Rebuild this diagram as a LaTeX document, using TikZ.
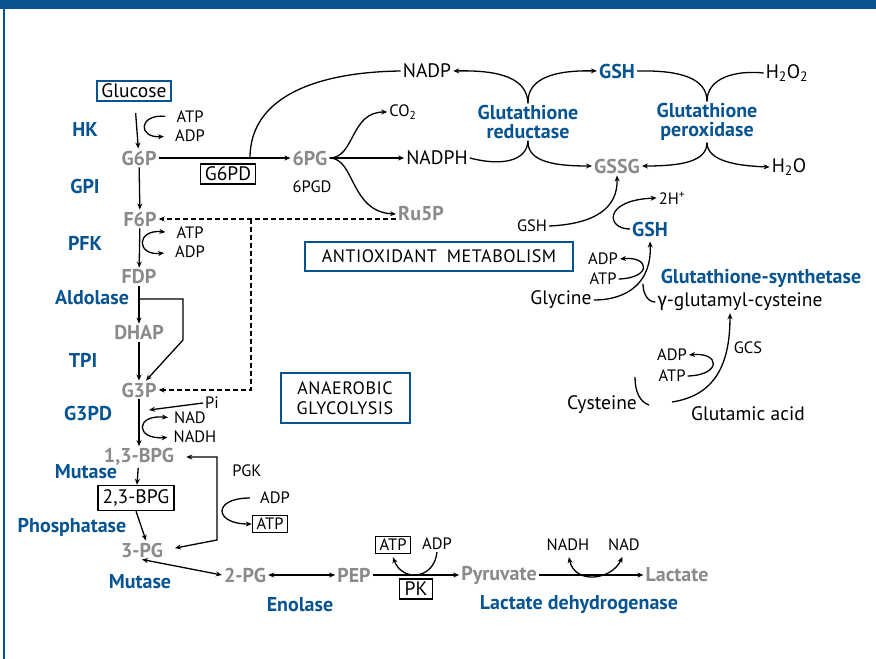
\documentclass[tikz,border=0pt]{standalone}
\usepackage{fontspec}
\setmainfont{PT Sans}
\newfontfamily\grkfont{Fira Sans}
\usepackage{xcolor}
\usetikzlibrary{arrows.meta}
\definecolor{hbblue}{RGB}{8,84,144}
\definecolor{hbgray}{RGB}{138,138,138}

\begin{document}
\begin{tikzpicture}[x=1pt,y=-1pt,
  met/.style={text=hbgray,font=\fontsize{20}{20}\selectfont\bfseries,inner sep=2pt},
  enz/.style={text=hbblue,font=\fontsize{20}{18.5}\selectfont\bfseries,align=center,inner sep=2pt},
  sub/.style={font=\fontsize{19.5}{20}\selectfont,inner sep=2pt},
  sml/.style={font=\fontsize{16.5}{18}\selectfont,inner sep=2pt},
  bbox/.style={draw=black,line width=1.6pt,inner xsep=4.5pt,inner ysep=3pt},
  blbox/.style={draw=hbblue,line width=2pt,align=center,font=\fontsize{18}{20}\selectfont\addfontfeatures{LetterSpace=3}},
  arr/.style={-{Stealth[length=6pt,width=5pt]},line width=1.3pt},
  arr2/.style={{Stealth[length=6pt,width=5pt]}-{Stealth[length=6pt,width=5pt]},line width=1.3pt},
  dsh/.style={dash pattern=on 5pt off 3pt},
  ln/.style={line width=1.3pt}]

  \useasboundingbox (0,0) rectangle (876,659);

  % Frame
  \fill[hbblue] (0,0) rectangle (876,9);
  \fill[hbblue] (3,0) rectangle (5,659);

  % --- 1. Glycolysis, main column ---
  \node[sub,draw=hbblue,line width=2pt,inner xsep=4.5pt,inner ysep=3pt] (glc) at (134,91) {Glucose};
  \node[met] (g6p) at (139,158) {G6P};
  \node[met] (f6p) at (140,219) {F6P};
  \node[met] (fdp) at (139,277) {FDP};
  \node[met] (dhap) at (139,333) {DHAP};
  \node[met] (g3p) at (139,390) {G3P};
  \node[met] (bpg13) at (139,457) {1,3-BPG};
  \node[sub,bbox,inner ysep=4pt] (bpg23) at (136,498) {2,3-BPG};
  \node[met] (pg3) at (142,550) {3-PG};
  \node[met] (pg2) at (245,575) {2-PG};
  \node[met] (pep) at (354,575) {PEP};
  \node[met] (pyr) at (499,575) {Pyruvate};
  \node[met] (lac) at (677,575) {Lactate};

  \node[enz] (hk) at (85,129) {HK};
  \node[enz] (gpi) at (85,186) {GPI};
  \node[enz] (pfk) at (85,243) {PFK};
  \node[enz] (ald) at (92,298) {Aldolase};
  \node[enz] (tpi) at (83,360) {TPI};
  \node[enz] (g3pd) at (88,413) {G3PD};
  \node[enz] (mut1) at (86,472) {Mutase};
  \node[enz] (phos) at (72,527) {Phosphatase};
  \node[enz] (mut2) at (140,582) {Mutase};
  \node[enz] (eno) at (300,605) {Enolase};
  \node[enz] (ldh) at (579,605) {Lactate dehydrogenase};

  \draw[arr,shorten <=11pt] (glc) -- (g6p);
  \draw[arr] (g6p) -- (f6p);
  \draw[arr] (f6p) -- (fdp);
  \draw[arr] (fdp) -- (dhap);
  \draw[arr] (dhap) -- (g3p);
  \draw[arr] (g3p) -- (bpg13);
  \draw[arr] (bpg13) -- (bpg23);
  \draw[arr] (bpg23.south) -- ([xshift=4pt]pg3.north);
  \coordinate (aldj) at (139,299);
  \draw[arr] (aldj) -| (183,340) -- ([xshift=7pt]g3p.north);

  % cofactors
  \node[sml] (atp1) at (190,117) {ATP};
  \node[sml] (adp1) at (190,136) {ADP};
  \draw[arr,shorten <=9pt,shorten >=9pt] (atp1.west) .. controls (138,114) and (138,138) .. (adp1.west);
  \node[sml] (atp2) at (190,233) {ATP};
  \node[sml] (adp2) at (190,252) {ADP};
  \draw[arr2,shorten <=9pt,shorten >=9pt] (atp2.west) .. controls (136,229) and (136,256) .. (adp2.west);
  \node[sml] (pi) at (212,403) {Pi};
  \coordinate (pij) at (149,410);
  \draw[arr] (pi.west) -- (pij);
  \node[sml] (nad1) at (190,418) {NAD};
  \node[sml] (nadh1) at (195,437) {NADH};
  \draw[arr2,shorten <=4pt,shorten >=4pt] (nad1.west) .. controls (135,414) and (135,440) .. (nadh1.west);

  % PGK
  \coordinate (pgkc) at (217,540);
  \draw[arr2,shorten <=10pt,shorten >=10pt] (bpg13.east) -| (pgkc) -- (pg3.east);
  \node[sml] (pgk) at (247,471) {PGK};
  \node[sml] (adp3) at (275,498) {ADP};
  \node[sml,bbox,inner ysep=2.5pt,inner xsep=4pt] (atp3) at (270,524) {ATP};
  \draw[arr,shorten <=8pt] (adp3.west) .. controls (212,498) and (214,524) .. (atp3.west);

  \draw[arr2] (pg3.south) -- (pg2.west);
  \draw[arr2] (pg2.east) -- (pep.west);
  \draw[arr] (pep.east) -- (pyr.west);
  \draw[arr] (pyr.east) -- (lac.west);

  % PK
  \node[sub,bbox,inner xsep=5pt] (pk) at (416,589) {PK};
  \node[sml,bbox,inner ysep=2.5pt,inner xsep=4pt] (atp4) at (393,545) {ATP};
  \node[sml] (adp4) at (437,544) {ADP};
  \draw[arr] (adp4.south) .. controls (434,580) and (402,582) .. ([yshift=-3pt]atp4.south);

  % LDH
  \node[sml] (nadh2) at (568,545) {NADH};
  \node[sml] (nad2) at (624,545) {NAD};
  \draw[arr2,shorten <=4pt,shorten >=4pt] (nadh2.south) .. controls (575,585) and (612,580) .. (nad2.south);

  % --- 2. Pentose phosphate shunt ---
  \node[met] (pg6) at (310,158) {6PG};
  \node[sub,bbox] (g6pd) at (228,174) {G6PD};
  \node[sml] (pgd) at (312,187) {6PGD};
  \node[sub] (nadp) at (427,71) {NADP};
  \node[sub] (nadph) at (437,158) {NADPH};
  \node[sml] (co2) at (403,112) {CO\textsubscript{2}};
  \node[met] (ru5p) at (421,214) {Ru5P};

  \draw[arr] (g6p.east) -- (pg6.west);
  \coordinate (g6pdj) at (250,158);
  \draw[ln] (g6pdj) .. controls (250,95) and (320,72) .. (nadp.west);
  \draw[arr] (pg6.east) -- (nadph.west);
  \draw[arr] (pg6.east) .. controls (355,158) and (350,112) .. (co2.west);
  \draw[arr] (pg6.east) .. controls (355,158) and (350,212) .. (ru5p.west);

  % back to glycolysis
  \coordinate (dashj) at (251,219);
  \draw[arr,dsh] (ru5p.west |- f6p) -- (f6p.east);
  \draw[arr,dsh] (dashj) |- (g3p.east);

  % --- 3. Glutathione cycle ---
  \node[met,text=hbblue] (gsh1) at (617,71) {GSH};
  \node[met] (gssg) at (617,166) {GSSG};
  \node[sub] (h2o2) at (787,73) {H\textsubscript{2}O\textsubscript{2}};
  \node[sub] (h2o) at (789,167) {H\textsubscript{2}O};
  \node[enz] (gred) at (528,122) {Glutathione\\reductase};
  \node[enz] (gper) at (707,122) {Glutathione\\peroxidase};

  \draw[arr] (gred.north) .. controls (527,78) and (500,70) .. (nadp.east);
  \draw[arr] (gred.north) .. controls (527,78) and (555,70) .. (gsh1.west);
  \draw[ln] (nadph.east) .. controls (500,166) and (527,162) .. (gred.south);
  \draw[arr] (gred.south) .. controls (527,162) and (555,166) .. (gssg.west);
  \draw[ln] (gsh1.east) .. controls (680,70) and (707,78) .. (gper.north);
  \draw[ln] (gper.north) .. controls (707,78) and (735,70) .. (h2o2.west);
  \draw[arr] (gper.south) .. controls (707,162) and (680,166) .. (gssg.east);
  \draw[arr] (gper.south) .. controls (707,162) and (740,166) .. (h2o.west);

  % --- 4. Glutathione synthesis ---
  \node[sml] (gsh2) at (532,226) {GSH};
  \node[met,text=hbblue] (gsh3) at (650,229) {GSH};
  \node[sml] (hplus) at (672,198) {2H\textsuperscript{+}};
  \draw[arr] (gsh2.east) .. controls (595,224) and (618,208) .. (gssg.south);
  \draw[arr] (gsh3.west) .. controls (606,229) and (603,200) .. (hplus.west);

  \node[sub] (gly) at (561,300) {Glycine};
  \node[sml] (adp5) at (603,259) {ADP};
  \node[sml] (atp5) at (603,279) {ATP};
  \node[enz] (gsyn) at (761,278) {Glutathione-synthetase};
  \node[sub] (ggc) at (740,302) {{\grkfont γ}-glutamyl-cysteine};
  \draw[arr] (gly.east) .. controls (628,300) and (652,282) .. ([yshift=-3pt]gsh3.south);
  \draw[arr] (atp5.east) .. controls (652,278) and (650,256) .. (adp5.east);
  \coordinate (ggch) at (643,284);
  \draw[ln] (ggc.west) .. controls (648,302) and (643,294) .. (ggch);

  \node[sml] (gcs) at (748,348) {GCS};
  \node[sml] (adp6) at (672,355) {ADP};
  \node[sml] (atp6) at (672,376) {ATP};
  \node[sub] (cys) at (602,405) {Cysteine};
  \node[sub] (glu) at (748,414) {Glutamic acid};
  \coordinate (gcsj) at (672,402);
  \draw[arr] (gcsj) .. controls (718,395) and (730,360) .. ([xshift=-10pt]ggc.south);
  \draw[arr] (atp6.east) .. controls (722,375) and (720,352) .. (adp6.east);
  \coordinate (cysh) at (635,377);
  \draw[ln] ([xshift=10pt]cys.east) .. controls (640,402) and (635,392) .. (cysh);

  % Labels
  \node[blbox,minimum width=129pt,minimum height=50pt] (anaer) at (345,398) {ANAEROBIC\\GLYCOLYSIS};
  \node[blbox,minimum width=268pt,minimum height=29pt] (antiox) at (439,256) {ANTIOXIDANT\hspace{10pt}METABOLISM};

\end{tikzpicture}
\end{document}
